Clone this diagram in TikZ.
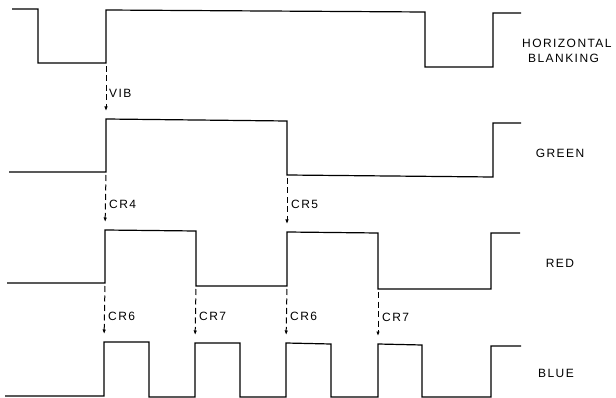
\documentclass[tikz,border=0pt]{standalone}
\usepackage{fontspec}
\newfontfamily\lblfont[LetterSpace=12]{Liberation Sans}
\usepackage{tikz}
\usetikzlibrary{arrows.meta}

\begin{document}
\begin{tikzpicture}[x=1pt, y=-1pt,
    wave/.style={line width=1.2pt, line join=miter},
    cue/.style={line width=1pt, dash pattern=on 6pt off 3.5pt, -{Latex[length=4.5pt,width=3.5pt]}, shorten <=3pt, shorten >=8pt},
    lbl/.style={font=\lblfont\fontsize{12}{14}\selectfont, inner sep=0pt}]
    \useasboundingbox (0,0) rectangle (616,398);

    % Horizontal blanking
    \draw[wave] (12,9) -- (38,9) -- (38,63) -- (106,63) coordinate (hbR) -- (106,10) -- (425,12) -- (425,67) -- (493,67) -- (493,13) -- (521,13);
    \node[lbl, anchor=west] (hb1) at (522,43) {HORIZONTAL};
    \node[lbl, anchor=west] (hb2) at (528,58) {BLANKING};

    % Green
    \draw[wave] (9,172) -- (106,172) coordinate (gR0) -- (106,119) coordinate (gR) -- (287,121) -- (287,175) coordinate (gF) -- (493,177) -- (493,123) -- (521,123);
    \node[lbl] (green) at (560,153) {GREEN};

    % Red
    \draw[wave] (7,283) -- (105,283) coordinate (rR0) -- (105,230) coordinate (rR1) -- (196,231) -- (196,286) coordinate (rF1) -- (287,286) coordinate (rR2b) -- (287,232) coordinate (rR2) -- (378,233) -- (378,289) coordinate (rF2) -- (491,289) -- (491,233) -- (520,233);
    \node[lbl] (red) at (560,263) {RED};

    % Blue
    \draw[wave] (5,396) -- (104,396) -- (104,342) coordinate (bR1) -- (149,342) -- (149,397) -- (195,397) -- (195,343) coordinate (bR2) -- (240,343) -- (240,397) -- (286,397) -- (286,343) coordinate (bR3) -- (331,344) -- (331,397) -- (378,397) -- (378,344) coordinate (bR4) -- (422,345) -- (422,397) -- (491,397) -- (491,346) -- (521,346);
    \node[lbl] (blue) at (556,373) {BLUE};

    % Gating arrows
    \draw[cue] (hbR) -- (gR);
    \node[lbl, anchor=west] (vib) at (109,93) {VIB};
    \draw[cue] (gR0) -- (rR1);
    \node[lbl, anchor=west] (cr4) at (109,204) {CR4};
    \draw[cue] (gF) -- (rR2);
    \node[lbl, anchor=west] (cr5) at (291,204) {CR5};
    \draw[cue] (rR0) -- (bR1);
    \node[lbl, anchor=west] (cr6a) at (108,316) {CR6};
    \draw[cue] (rF1) -- (bR2);
    \node[lbl, anchor=west] (cr7a) at (199,316) {CR7};
    \draw[cue] (rR2b) -- (bR3);
    \node[lbl, anchor=west] (cr6b) at (290,316) {CR6};
    \draw[cue] (rF2) -- (bR4);
    \node[lbl, anchor=west] (cr7b) at (382,317) {CR7};
\end{tikzpicture}
\end{document}
